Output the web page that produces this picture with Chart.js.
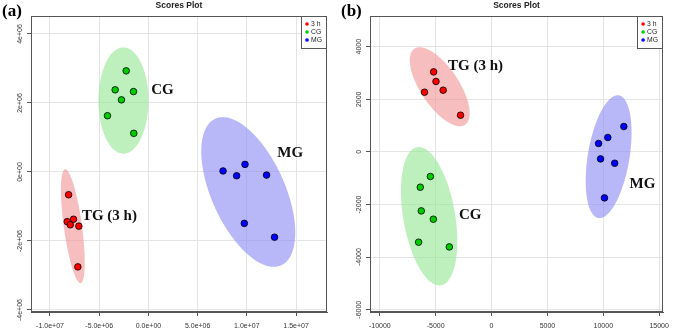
<!DOCTYPE html>
<html><head><meta charset="utf-8">
<script src="https://cdn.jsdelivr.net/npm/chart.js@4.4.0/dist/chart.umd.min.js"></script>
<style>
html,body{margin:0;padding:0;background:#fff;width:675px;height:331px;overflow:hidden}
.p{position:absolute;top:0;height:331px}
#wa{left:0;width:339px} #wb{left:339px;width:336px}
</style></head><body>
<div class="p" id="wa"><canvas id="ca" width="339" height="331"></canvas></div>
<div class="p" id="wb"><canvas id="cb" width="336" height="331"></canvas></div>
<script>
// ---------- data ----------
const groups = ['3 h', 'CG', 'MG'];
const groupColors = ['#ff0000', '#00cd00', '#0000ff'];
const ellipseColors = ['rgba(240,150,150,0.62)', 'rgba(150,230,150,0.62)', 'rgba(140,140,245,0.62)'];
const mainTitle = 'Scores Plot';

// Panel (a)
const aTG_x = [-8.11e6, -8.25e6, -7.61e6, -7.94e6, -7.07e6, -7.17e6];
const aTG_y = [-0.66e6, -1.44e6, -1.37e6, -1.53e6, -1.57e6, -2.75e6];
const aCG_x = [-2.26e6, -3.38e6, -1.52e6, -2.74e6, -4.16e6, -1.49e6];
const aCG_y = [2.93e6, 2.38e6, 2.33e6, 2.09e6, 1.63e6, 1.12e6];
const aMG_x = [7.58e6, 9.81e6, 8.96e6, 12.0e6, 9.74e6, 12.81e6];
const aMG_y = [0.03e6, 0.22e6, -0.11e6, -0.09e6, -1.49e6, -1.89e6];
const aXTicks = [-1e7, -5e6, 0, 5e6, 1e7, 1.5e7];
const aXLabels = ['-1.0e+07', '-5.0e+06', '0.0e+00', '5.0e+06', '1.0e+07', '1.5e+07'];
const aYTicks = [-4e6, -2e6, 0, 2e6, 4e6];
const aYLabels = ['-4e+06', '-2e+06', '0e+00', '2e+06', '4e+06'];
// ellipses: centre, conjugate half-axis vectors (data units)
const aEllTG = {c: [-7.68e6, -1.57e6], u: [0.771e6, -1.652e6], v: [0.929e6, 0]};
const aEllCG = {c: [-2.54e6, 2.07e6], u: [0, 1.54e6], v: [2.54e6, 0]};
const aEllMG = {c: [10.14e6, -0.58e6], u: [2.59e6, -2.17e6], v: [4.01e6, 0]};

// Panel (b)
const bTG_x = [-5185, -4974, -6002, -4332, -2777];
const bTG_y = [3042, 2677, 2270, 2346, 1395];
const bCG_x = [-5475, -6380, -6292, -5211, -6529, -3779];
const bCG_y = [-935, -1342, -2243, -2559, -3433, -3612];
const bMG_x = [9578, 10404, 11837, 9754, 11019, 10105];
const bMG_y = [319, 548, 966, -266, -430, -1749];
const bXTicks = [-10000, -5000, 0, 5000, 10000, 15000];
const bXLabels = ['-10000', '-5000', '0', '5000', '10000', '15000'];
const bYTicks = [-6000, -4000, -2000, 0, 2000, 4000];
const bYLabels = ['-6000', '-4000', '-2000', '0', '2000', '4000'];
const bEllTG = {c: [-4640, 2479], u: [1801, -1502], v: [1986, 0]};
const bEllCG = {c: [-5589, -2445], u: [914, -2631], v: [2351, 0]};
const bEllMG = {c: [10475, -183], u: [-808, -2335], v: [1889, 0]};

// ---------- helpers ----------
const zip = (xs, ys) => xs.map((x, i) => ({x, y: ys[i]}));
const SANS = '"Liberation Sans", Arial, sans-serif';
const SERIF = '"Liberation Serif", "Times New Roman", serif';

const panelPlugin = {
  id: 'panel',
  beforeDatasetsDraw(chart, args, o) {
    const {ctx, chartArea: ca, scales: {x, y}} = chart;
    ctx.save();
    ctx.beginPath(); ctx.rect(ca.left, ca.top, ca.right - ca.left, ca.bottom - ca.top); ctx.clip();
    o.ellipses.forEach((e, k) => {
      ctx.beginPath();
      for (let i = 0; i <= 160; i++) {
        const t = i / 160 * 2 * Math.PI;
        const dx = e.c[0] + e.u[0] * Math.cos(t) + e.v[0] * Math.sin(t);
        const dy = e.c[1] + e.u[1] * Math.cos(t) + e.v[1] * Math.sin(t);
        const px = x.getPixelForValue(dx), py = y.getPixelForValue(dy);
        i ? ctx.lineTo(px, py) : ctx.moveTo(px, py);
      }
      ctx.closePath(); ctx.fillStyle = ellipseColors[k]; ctx.fill();
    });
    ctx.restore();
  },
  afterDraw(chart, args, o) {
    const {ctx, chartArea: ca, scales: {x, y}} = chart;
    ctx.save();
    // frame
    ctx.strokeStyle = '#555'; ctx.lineWidth = 1;
    ctx.strokeRect(Math.round(ca.left) + 0.5, Math.round(ca.top) + 0.5, Math.round(ca.right - ca.left) - 1, Math.round(ca.bottom - ca.top) - 1);
    // rotated y tick labels
    ctx.fillStyle = '#333'; ctx.font = '7px ' + SANS;
    ctx.textAlign = 'center'; ctx.textBaseline = 'middle';
    o.yTicks.forEach((v, i) => {
      const py = y.getPixelForValue(v);
      ctx.save(); ctx.translate(ca.left - 11, py); ctx.rotate(-Math.PI / 2);
      ctx.fillText(o.yLabels[i], 0, 0); ctx.restore();
    });
    // group annotations
    ctx.fillStyle = '#111'; ctx.font = 'bold 15px ' + SERIF;
    o.notes.forEach(n => {
      ctx.fillText(n.text, x.getPixelForValue(n.x), y.getPixelForValue(n.y));
    });
    // legend
    const lw = 26, lh = 32, lx = ca.right - lw, ly = ca.top;
    ctx.fillStyle = '#fff'; ctx.fillRect(lx, ly, lw, lh);
    ctx.strokeStyle = '#555'; ctx.strokeRect(Math.round(lx) + 0.5, ly + 0.5, lw - 1, lh);
    ctx.font = '6.8px ' + SANS; ctx.textAlign = 'left';
    chart.data.datasets.forEach((ds, i) => {
      const yy = ly + 8 + i * 8;
      ctx.beginPath(); ctx.arc(lx + 6, yy, 1.8, 0, 2 * Math.PI);
      ctx.fillStyle = ds.backgroundColor; ctx.fill();
      ctx.fillStyle = '#222'; ctx.fillText(ds.label, lx + 10, yy);
    });
    // title
    ctx.fillStyle = '#222'; ctx.font = 'bold 8.5px ' + SANS; ctx.textAlign = 'center';
    ctx.fillText(mainTitle, (ca.left + ca.right) / 2, 5.5);
    // panel tag
    ctx.fillStyle = '#000'; ctx.font = 'bold 17px ' + SERIF; ctx.textAlign = 'left'; ctx.textBaseline = 'alphabetic';
    ctx.fillText(o.tag, 2, 16);
    ctx.restore();
  }
};

function makeChart(id, sets, xr, yr, xTicks, xLabels, yTicks, yLabels, ells, notes, tag, padRight) {
  return new Chart(document.getElementById(id), {
    type: 'scatter',
    data: {
      datasets: sets.map((s, i) => ({
        label: groups[i], data: zip(s[0], s[1]),
        backgroundColor: groupColors[i], pointBackgroundColor: groupColors[i],
        pointBorderColor: '#000', pointBorderWidth: 0.8, pointRadius: 3.3, pointHoverRadius: 3.3
      }))
    },
    options: {
      responsive: false, animation: false, events: [],
      layout: {padding: {left: 1, top: 16, right: padRight, bottom: 0}},
      plugins: {
        legend: {display: false}, tooltip: {enabled: false}, title: {display: false},
        panel: {ellipses: ells, yTicks, yLabels, notes, tag}
      },
      scales: {
        x: {
          type: 'linear', min: xr[0], max: xr[1],
          afterBuildTicks: s => { s.ticks = xTicks.map(v => ({value: v})); },
          afterFit: s => { s.height = 19; },
          ticks: {autoSkip: false, maxRotation: 0, minRotation: 0, padding: 6, color: '#333',
                  font: {size: 7, family: SANS},
                  callback: v => xLabels[xTicks.indexOf(v)]},
          grid: {color: '#e4e4e4', lineWidth: 1, tickLength: 4, tickColor: '#555', drawTicks: true},
          border: {display: true, color: '#555', width: 1}
        },
        y: {
          type: 'linear', min: yr[0], max: yr[1],
          afterBuildTicks: s => { s.ticks = yTicks.map(v => ({value: v})); },
          afterFit: s => { s.width = 30; },
          ticks: {display: false},
          grid: {color: '#e4e4e4', lineWidth: 1, tickLength: 4, tickColor: '#555', drawTicks: true},
          border: {display: true, color: '#555', width: 1}
        }
      }
    },
    plugins: [panelPlugin]
  });
}

makeChart('ca',
  [[aTG_x, aTG_y], [aCG_x, aCG_y], [aMG_x, aMG_y]],
  [-11.93e6, 18.14e6], [-4.058e6, 4.52e6],
  aXTicks, aXLabels, aYTicks, aYLabels,
  [aEllTG, aEllCG, aEllMG],
  [{text: 'CG', x: 1.42e6, y: 2.38e6}, {text: 'MG', x: 14.4e6, y: 0.55e6}, {text: 'TG (3 h)', x: -3.96e6, y: -1.28e6}],
  '(a)', 12);

makeChart('cb',
  [[bTG_x, bTG_y], [bCG_x, bCG_y], [bMG_x, bMG_y]],
  [-10880, 15352], [-6087, 5167],
  bXTicks, bXLabels, bYTicks, bYLabels,
  [bEllTG, bEllCG, bEllMG],
  [{text: 'TG (3 h)', x: -1432, y: 3259}, {text: 'MG', x: 13506, y: -1228}, {text: 'CG', x: -1916, y: -2407}],
  '(b)', 7);
</script>
</body></html>
